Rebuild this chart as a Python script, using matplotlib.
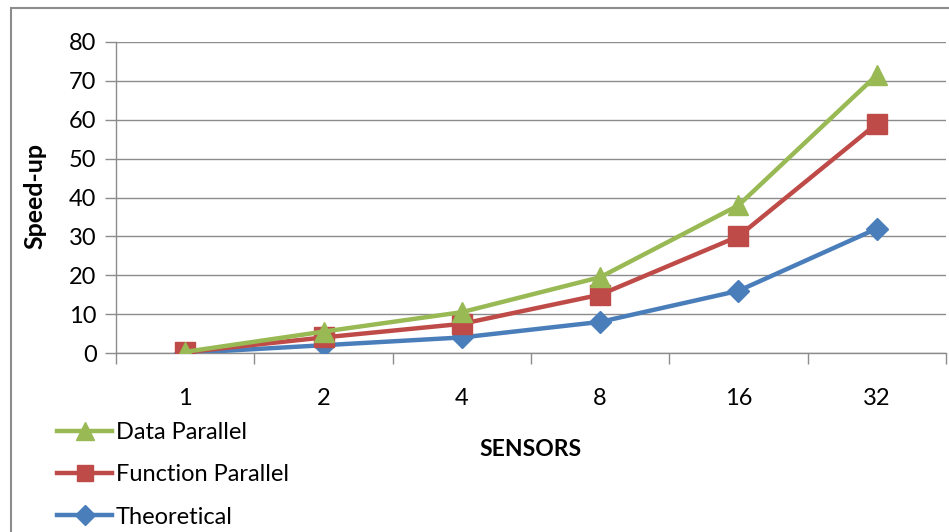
import matplotlib.pyplot as plt
from matplotlib.patches import Rectangle
from matplotlib.lines import Line2D

sensors = ["1", "2", "4", "8", "16", "32"]
data_parallel = [0.3, 5.5, 10.5, 19.5, 38, 71.5]
function_parallel = [0.2, 4, 7.5, 15, 30, 59]
theoretical = [0, 2, 4, 8, 16, 32]

plt.rcParams["font.family"] = ["Lato", "DejaVu Sans"]

fig = plt.figure(figsize=(9.49, 5.32), dpi=100)
ax = fig.add_axes([116 / 949, 1 - 353 / 532, 830 / 949, 311 / 532])

# outer chart border
fig.add_artist(Rectangle((11 / 949, -0.1), 1.0, 1 - 8 / 532 + 0.1,
                         transform=fig.transFigure, fill=False,
                         edgecolor="#8c8c8c", linewidth=1.5))

x = [i + 0.5 for i in range(len(sensors))]
series = [
    ("Theoretical", theoretical, "#4a7ebb", "D", 11),
    ("Function Parallel", function_parallel, "#be4b48", "s", 14),
    ("Data Parallel", data_parallel, "#98b954", "^", 15),
]
for name, vals, col, mk, ms in series:
    ax.plot(x, vals, color=col, linewidth=3.2, marker=mk, markersize=ms,
            label=name, zorder=3)

ax.set_xlim(0, 6)
ax.set_ylim(0, 80)
ax.set_yticks(range(0, 81, 10))
ax.set_xticks(range(0, 7))
ax.set_xticklabels([])
ax.set_xticks(x, minor=True)
ax.set_xticklabels(sensors, minor=True)
ax.tick_params(axis="x", which="minor", length=0, pad=25, labelsize=17)
ax.tick_params(axis="x", which="major", length=8, color="#8c8c8c", width=1)
ax.tick_params(axis="y", length=8, color="#8c8c8c", width=1, labelsize=17, pad=6)
ax.grid(axis="y", color="#8c8c8c", linewidth=1)
ax.set_axisbelow(True)
for s in ["top", "right"]:
    ax.spines[s].set_visible(False)
for s in ["left", "bottom"]:
    ax.spines[s].set_color("#8c8c8c")
    ax.spines[s].set_linewidth(1)

fig.text(35 / 949, 1 - 196 / 532, "Speed-up", rotation=90, ha="center",
         va="center", fontsize=18, fontweight="bold")
fig.text(530 / 949, 1 - 450 / 532, "SENSORS", ha="center", va="center",
         fontsize=16.5, fontweight="bold")

handles = [
    Line2D([], [], color="#98b954", linewidth=3.2, marker="^", markersize=13),
    Line2D([], [], color="#be4b48", linewidth=3.2, marker="s", markersize=12),
    Line2D([], [], color="#4a7ebb", linewidth=3.2, marker="D", markersize=10),
]
fig.legend(handles, ["Data Parallel", "Function Parallel", "Theoretical"],
           loc="upper left", bbox_to_anchor=(57 / 949, 1 - 422 / 532),
           frameon=False, fontsize=17, handlelength=2.35, handletextpad=0.15,
           labelspacing=0.9, borderpad=0, borderaxespad=0)

fig.savefig("out.png", dpi=100)
